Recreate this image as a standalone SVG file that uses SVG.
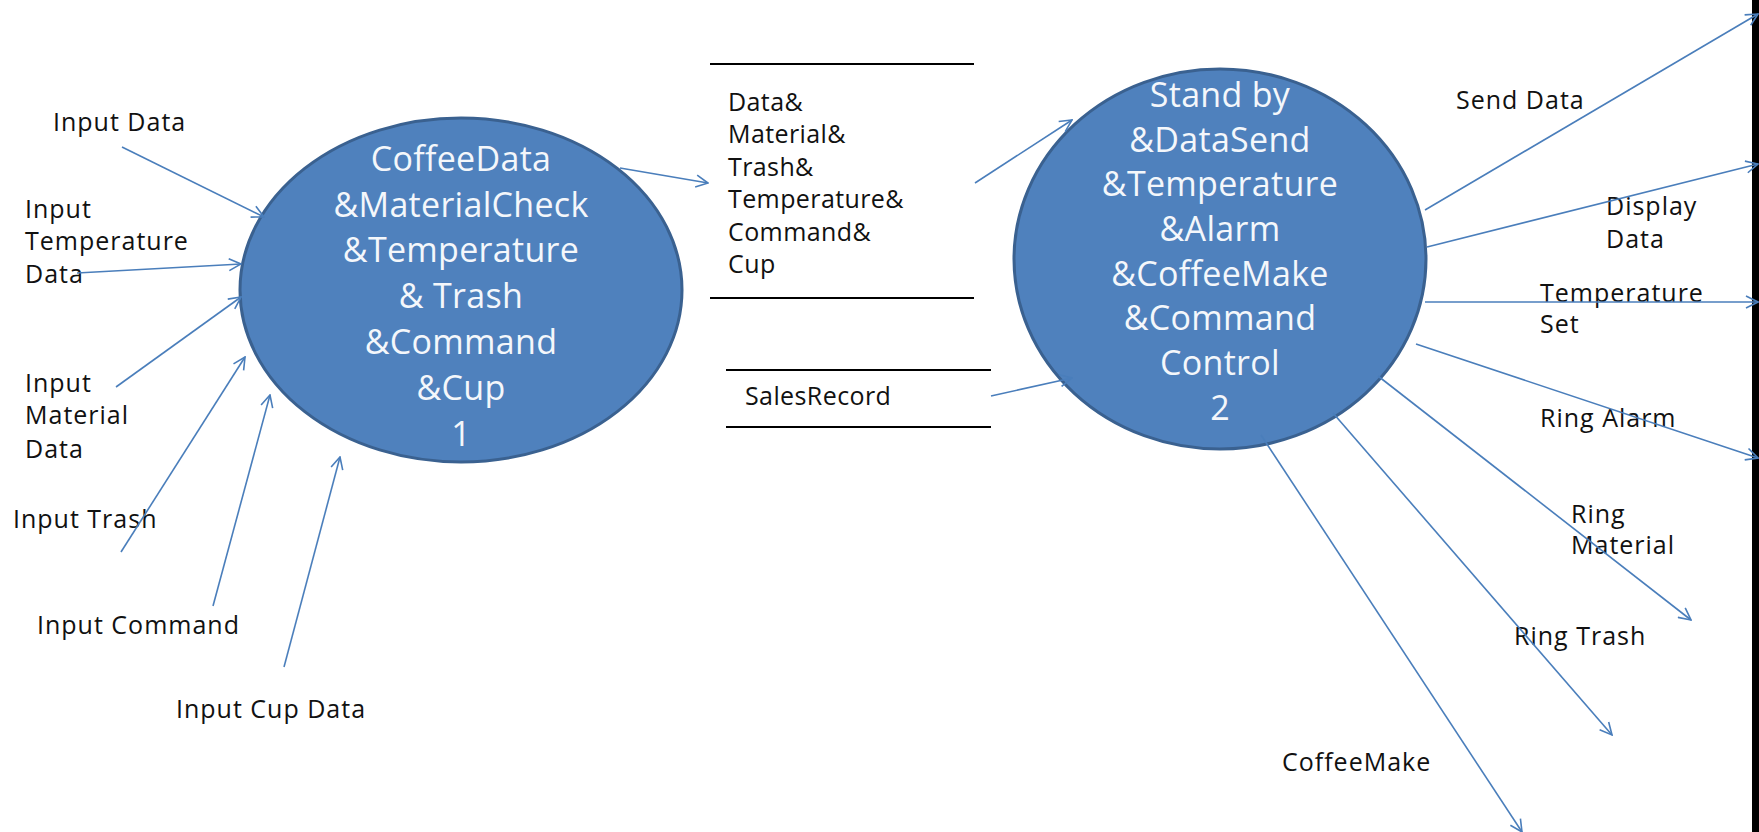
<svg xmlns="http://www.w3.org/2000/svg" width="1759" height="832" viewBox="0 0 1759 832">
<style>
.lbl{font-family:"Open Sans","Liberation Sans",sans-serif;font-size:25px;fill:#111;letter-spacing:1px}
.st{letter-spacing:0.4px}
.in{font-family:"Open Sans","Liberation Sans",sans-serif;font-size:34px;fill:#f4f7fb;text-anchor:middle;letter-spacing:0.3px}
.proc{fill:#4f81bd;stroke:#3a6190;stroke-width:3}
.store{stroke:#000;stroke-width:2}
.flow{stroke:#4a7ebb;stroke-width:1.6;fill:none;marker-end:url(#arr)}
</style>
<defs>
<marker id="arr" viewBox="0 0 14 14" refX="13" refY="7" markerWidth="14" markerHeight="14" orient="auto" markerUnits="userSpaceOnUse">
<path d="M1,1 L13,7 L1,13" fill="none" stroke="#4a7ebb" stroke-width="1.6"/>
</marker>
</defs>
<rect width="1759" height="832" fill="#fff"/>
<rect x="1752" y="0" width="7" height="832" fill="#000"/>

<g id="process1">
<ellipse class="proc" cx="461" cy="290" rx="221" ry="172"/>
<text class="in" x="461" y="171">CoffeeData</text>
<text class="in" x="461" y="217">&amp;MaterialCheck</text>
<text class="in" x="461" y="262">&amp;Temperature</text>
<text class="in" x="461" y="308">&amp; Trash</text>
<text class="in" x="461" y="354">&amp;Command</text>
<text class="in" x="461" y="400">&amp;Cup</text>
<text class="in" x="461" y="446">1</text>
</g>

<g id="process2">
<ellipse class="proc" cx="1220" cy="259" rx="206" ry="190"/>
<text class="in" x="1220" y="107">Stand by</text>
<text class="in" x="1220" y="152">&amp;DataSend</text>
<text class="in" x="1220" y="196">&amp;Temperature</text>
<text class="in" x="1220" y="241">&amp;Alarm</text>
<text class="in" x="1220" y="286">&amp;CoffeeMake</text>
<text class="in" x="1220" y="330">&amp;Command</text>
<text class="in" x="1220" y="375">Control</text>
<text class="in" x="1220" y="420">2</text>
</g>

<g id="store1">
<line class="store" x1="710" y1="64" x2="974" y2="64"/>
<line class="store" x1="710" y1="298" x2="974" y2="298"/>
<text class="lbl st" x="728" y="111">Data&amp;</text>
<text class="lbl st" x="728" y="143">Material&amp;</text>
<text class="lbl st" x="728" y="176">Trash&amp;</text>
<text class="lbl st" x="728" y="208">Temperature&amp;</text>
<text class="lbl st" x="728" y="241">Command&amp;</text>
<text class="lbl st" x="728" y="273">Cup</text>
</g>

<g id="store2">
<line class="store" x1="726" y1="370" x2="991" y2="370"/>
<line class="store" x1="726" y1="427" x2="991" y2="427"/>
<text class="lbl st" x="745" y="405">SalesRecord</text>
</g>

<g id="labels">
<text class="lbl" x="53" y="131">Input Data</text>
<text class="lbl" x="25" y="218">Input</text>
<text class="lbl" x="25" y="250">Temperature</text>
<text class="lbl" x="25" y="283">Data</text>
<text class="lbl" x="25" y="392">Input</text>
<text class="lbl" x="25" y="424">Material</text>
<text class="lbl" x="25" y="458">Data</text>
<text class="lbl" x="13" y="528">Input Trash</text>
<text class="lbl" x="37" y="634">Input Command</text>
<text class="lbl" x="176" y="718">Input Cup Data</text>
<text class="lbl" x="1456" y="109">Send Data</text>
<text class="lbl" x="1606" y="215">Display</text>
<text class="lbl" x="1606" y="248">Data</text>
<text class="lbl" x="1540" y="302">Temperature</text>
<text class="lbl" x="1540" y="333">Set</text>
<text class="lbl" x="1540" y="427">Ring Alarm</text>
<text class="lbl" x="1571" y="523">Ring</text>
<text class="lbl" x="1571" y="554">Material</text>
<text class="lbl" x="1514" y="645">Ring Trash</text>
<text class="lbl" x="1282" y="771">CoffeeMake</text>
</g>

<g id="connectors">
<line class="flow" x1="122" y1="147" x2="264" y2="217"/>
<line class="flow" x1="77" y1="273" x2="241" y2="264"/>
<line class="flow" x1="116" y1="387" x2="241" y2="297"/>
<line class="flow" x1="121" y1="552" x2="245" y2="357"/>
<line class="flow" x1="213" y1="606" x2="270" y2="395"/>
<line class="flow" x1="284" y1="667" x2="340" y2="457"/>
<line class="flow" x1="620" y1="168" x2="708" y2="183"/>
<line class="flow" x1="975" y1="183" x2="1072" y2="120"/>
<line class="flow" x1="991" y1="396" x2="1072" y2="378"/>
<line class="flow" x1="1425" y1="210" x2="1758" y2="14"/>
<line class="flow" x1="1427" y1="247" x2="1758" y2="164"/>
<line class="flow" x1="1425" y1="302" x2="1758" y2="302"/>
<line class="flow" x1="1416" y1="344" x2="1758" y2="458"/>
<line class="flow" x1="1378" y1="376" x2="1691" y2="620"/>
<line class="flow" x1="1333" y1="413" x2="1612" y2="735"/>
<line class="flow" x1="1261" y1="435" x2="1522" y2="832"/>
</g>
</svg>
